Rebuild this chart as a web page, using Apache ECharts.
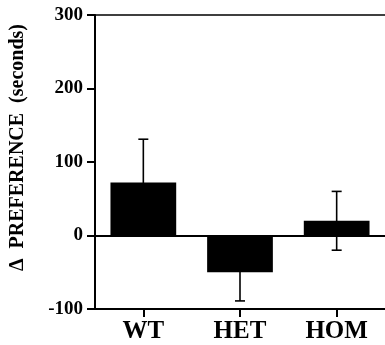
<!DOCTYPE html>
<html>
<head>
<meta charset="utf-8">
<script src="https://cdn.jsdelivr.net/npm/echarts@6/dist/echarts.min.js"></script>
<style>html,body{margin:0;padding:0;background:#fff;}#c{width:385px;height:345px;}</style>
</head>
<body>
<div id="c"></div>
<script>
var categories = ['WT', 'HET', 'HOM'];
var means = [72, -50, 20];
var errors = [59, 39, 40];
var yTicks = [-100, 0, 100, 200, 300];

var FONT = 'Liberation Serif';
var chart = echarts.init(document.getElementById('c'));

var errData = categories.map(function (c, i) {
  return [i, means[i] + errors[i], means[i] - errors[i]];
});

chart.setOption({
  animation: false,
  backgroundColor: '#fff',
  grid: { left: 94, right: -4, top: 15, bottom: 36, containLabel: false },
  xAxis: [{
    type: 'category',
    data: categories,
    position: 'bottom',
    axisLine: { onZero: false, lineStyle: { color: '#000', width: 2 } },
    axisTick: { show: true, alignWithLabel: true, length: 8, lineStyle: { color: '#000', width: 2 } },
    axisLabel: { color: '#000', fontFamily: FONT, fontWeight: 'bold', fontSize: 25, margin: 10 },
    splitLine: { show: false }
  }, {
    type: 'category',
    data: categories,
    position: 'top',
    axisLine: { show: true, onZero: false, lineStyle: { color: '#000', width: 1.5 } },
    axisTick: { show: false },
    axisLabel: { show: false }
  }],
  yAxis: {
    type: 'value',
    min: yTicks[0],
    max: yTicks[yTicks.length - 1],
    interval: 100,
    name: 'Δ  PREFERENCE  (seconds)',
    nameLocation: 'middle',
    nameGap: 67,
    nameTextStyle: { color: '#000', fontFamily: FONT, fontWeight: 'bold', fontSize: 20, padding: [0, 0, 0, 29] },
    axisLine: { show: true, lineStyle: { color: '#000', width: 2 } },
    axisTick: { show: true, length: 8, lineStyle: { color: '#000', width: 2 } },
    axisLabel: { color: '#000', fontFamily: FONT, fontWeight: 'bold', fontSize: 19, margin: 12 },
    splitLine: { show: false }
  },
  series: [{
    type: 'custom',
    z: 1,
    data: errData,
    renderItem: function (params, api) {
      var x = api.coord([api.value(0), 0])[0];
      var hi = api.coord([api.value(0), api.value(1)])[1];
      var lo = api.coord([api.value(0), api.value(2)])[1];
      var hw = 5;
      var st = { stroke: '#000', lineWidth: 1.6 };
      return {
        type: 'group',
        children: [
          { type: 'line', shape: { x1: x, y1: hi, x2: x, y2: lo }, style: st },
          { type: 'line', shape: { x1: x - hw, y1: hi, x2: x + hw, y2: hi }, style: st },
          { type: 'line', shape: { x1: x - hw, y1: lo, x2: x + hw, y2: lo }, style: st }
        ]
      };
    }
  }, {
    type: 'bar',
    z: 3,
    data: means,
    barWidth: '68%',
    itemStyle: { color: '#000' },
    markLine: {
      silent: true,
      symbol: 'none',
      label: { show: false },
      lineStyle: { color: '#000', width: 2, type: 'solid' },
      data: [{ yAxis: 0 }]
    }
  }]
});
</script>
</body>
</html>
